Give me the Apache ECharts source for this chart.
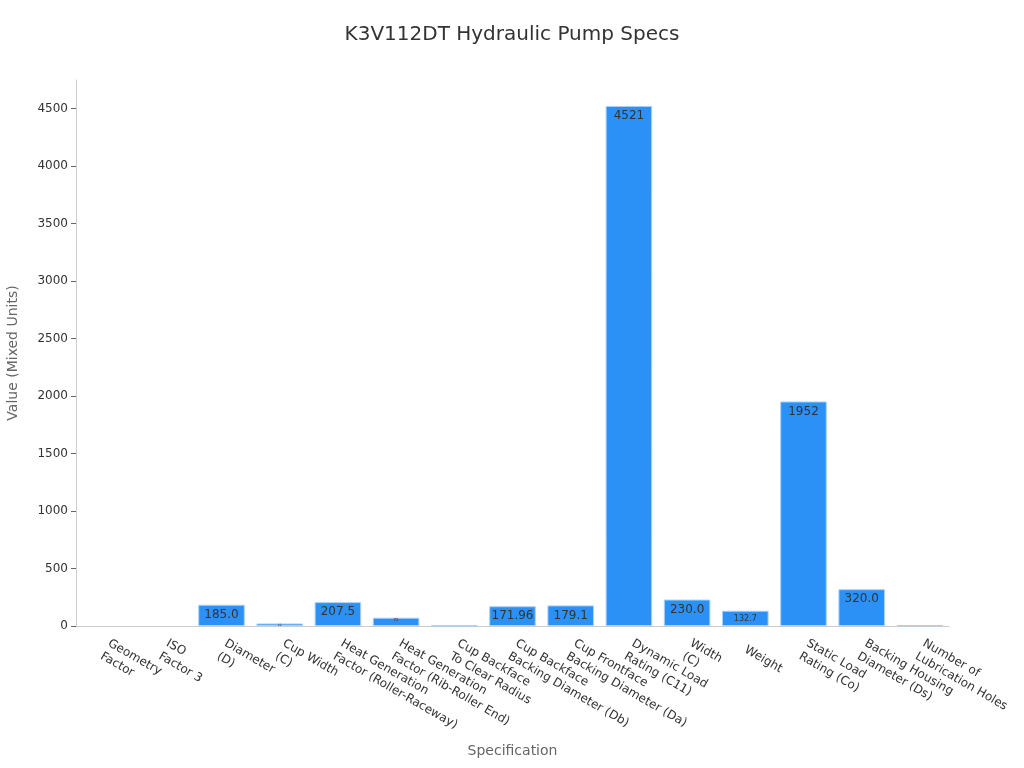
<!DOCTYPE html>
<html>
<head>
<meta charset="utf-8">
<script src="https://cdn.jsdelivr.net/npm/echarts@6/dist/echarts.min.js"></script>
<style>html,body{margin:0;padding:0;background:#fff}#c{width:1024px;height:768px}</style>
</head>
<body>
<div id="c"></div>
<script>
const categories = [
  "Geometry\nFactor", "ISO\nFactor 3", "Diameter\n(D)", "Cup Width\n(C)",
  "Heat Generation\nFactor (Roller-Raceway)", "Heat Generation\nFactor (Rib-Roller End)",
  "Cup Backface\nTo Clear Radius", "Cup Backface\nBacking Diameter (Db)",
  "Cup Frontface\nBacking Diameter (Da)", "Dynamic Load\nRating (C11)", "Width\n(C)",
  "Weight", "Static Load\nRating (Co)", "Backing Housing\nDiameter (Ds)",
  "Number of\nLubrication Holes"
];
const values = [0.1, 0.3, 185.0, 22, 207.5, 72, 4, 171.96, 179.1, 4521, 230.0, 132.7, 1952, 320.0, 8];
const labelTexts = ["", "", "185.0", "22", "207.5", "72", "", "171.96", "179.1", "4521", "230.0", "132.7", "1952", "320.0", ""];
const labelSizes = [0, 0, 12, 3, 12, 4, 0, 12, 12, 12, 12, 8, 12, 12, 0];
const yTicks = [0, 500, 1000, 1500, 2000, 2500, 3000, 3500, 4000, 4500];

const chart = echarts.init(document.getElementById('c'));
const font = 'DejaVu Sans';
chart.setOption({
  textStyle: { fontFamily: font },
  title: {
    text: 'K3V112DT Hydraulic Pump Specs',
    left: 'center', top: 20,
    textStyle: { fontFamily: font, fontSize: 20, fontWeight: 'normal', color: '#333' }
  },
  grid: { left: 76, right: 75, top: 80, bottom: 142, containLabel: false, outerBoundsMode: 'none' },
  xAxis: {
    type: 'category',
    data: categories,
    name: 'Specification',
    nameLocation: 'middle',
    nameGap: 118,
    nameTextStyle: { fontFamily: font, fontSize: 14, color: '#666' },
    axisLine: { lineStyle: { color: '#ccc' } },
    axisTick: { alignWithLabel: true, lineStyle: { color: '#666' } },
    axisLabel: { rotate: -30, interval: 0, fontFamily: font, fontSize: 12, color: '#333', lineHeight: 15, margin: 23 }
  },
  yAxis: {
    type: 'value',
    min: 0,
    max: 4747,
    interval: 500,
    name: 'Value (Mixed Units)',
    nameLocation: 'middle',
    nameGap: 56,
    nameTextStyle: { fontFamily: font, fontSize: 14, color: '#666' },
    axisLine: { show: true, lineStyle: { color: '#ccc' } },
    axisTick: { show: true, customValues: yTicks, lineStyle: { color: '#666' } },
    axisLabel: { customValues: yTicks, fontFamily: font, fontSize: 12, color: '#333', formatter: v => String(v) },
    splitLine: { show: false }
  },
  series: [{
    type: 'bar',
    barWidth: '80%',
    data: values.map((v, i) => ({
      value: v,
      itemStyle: v < 1 ? { borderWidth: 0 } : undefined,
      label: {
        show: labelSizes[i] > 0,
        fontSize: labelSizes[i],
        distance: labelSizes[i] < 6 ? 0 : 4,
        formatter: labelTexts[i]
      }
    })),
    itemStyle: { color: '#2B91F7', borderColor: '#a9d0f7', borderWidth: 1 },
    label: { position: 'insideTop', distance: 4, color: '#333', fontFamily: font }
  }]
});
</script>
</body>
</html>
